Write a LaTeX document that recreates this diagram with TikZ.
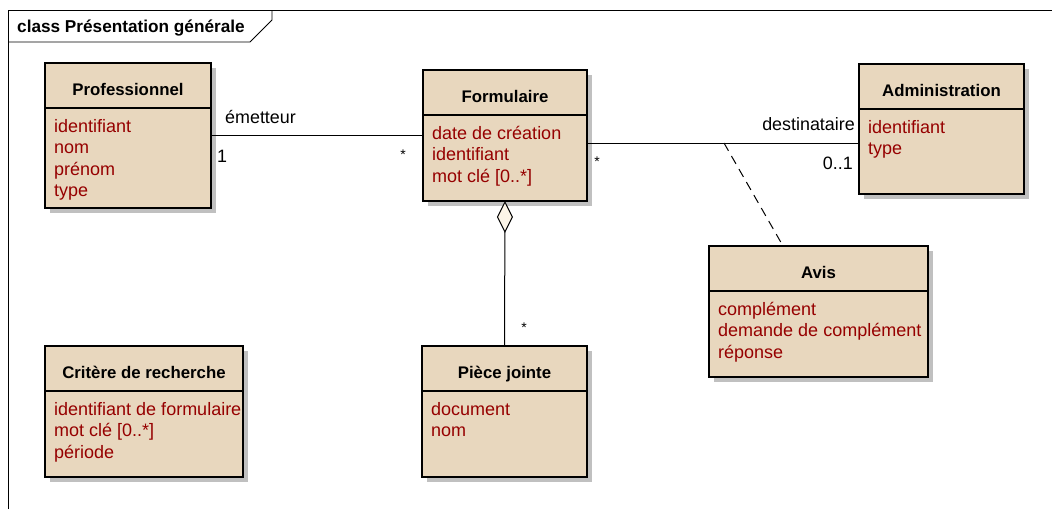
\documentclass[tikz,border=0pt]{standalone}
\usepackage{fontspec}
\setmainfont{Liberation Sans}
\usetikzlibrary{arrows.meta,calc}

\definecolor{classfill}{RGB}{232,215,190}
\definecolor{attrred}{RGB}{150,0,0}
\definecolor{shadowgrey}{RGB}{192,192,192}
\definecolor{diamondfill}{RGB}{252,245,232}

\tikzset{
  classbox/.style={draw, line width=1.4pt, fill=classfill, inner sep=0pt, outer sep=0pt},
  classname/.style={anchor=base, inner sep=0pt, font=\bfseries\fontsize{16.8}{20}\selectfont},
  attribute/.style={anchor=base west, inner sep=0pt, text=attrred, font=\fontsize{18}{21.5}\selectfont},
  rolename/.style={inner sep=0pt, font=\fontsize{17.9}{21.5}\selectfont},
  multstar/.style={inner sep=0pt, font=\fontsize{14}{15}\selectfont}
}

% name, x, y, width, height, title, attributes
\newcommand{\umlclass}[7]{%
  \fill[shadowgrey] (#2+5,#3+5) rectangle ++(#4,#5);
  \node[classbox, minimum width=#4pt, minimum height=#5pt] (#1) at (#2+#4/2,#3+#5/2) {};
  \draw[line width=1.2pt] ([yshift=-45pt]#1.north west) -- ([yshift=-45pt]#1.north east);
  \node[classname] (#1-name) at ([yshift=-32.5pt]#1.north) {#6};
  \foreach \att [count=\n] in {#7}
    \node[attribute] (#1-attr\n) at ([xshift=9pt,yshift={-69pt-21.5pt*(\n-1)}]#1.north west) {\att};
}

\begin{document}
\begin{tikzpicture}[x=1pt,y=-1pt]
 \useasboundingbox (0,0) rectangle (1052,509);
 % frame
 \draw[line width=0.8pt] (8,509) -- (8,10) -- (1052,10);
 \draw[line width=0.8pt] (8,42) -- (250,42) -- (272,20) -- (272,10);
 \node[anchor=base west, inner sep=0pt, font=\bfseries\fontsize{17.2}{20}\selectfont] (frametitle) at (17,32) {class Présentation générale};

 % classes
 \umlclass{prof}{45}{63}{166}{145}{Professionnel}{identifiant, nom, prénom, type}
 \umlclass{form}{423}{70}{164}{131}{Formulaire}{date de création, identifiant, {mot clé [0..*]}}
 \umlclass{admin}{859}{64}{165}{130}{Administration}{identifiant, type}
 \umlclass{avis}{709}{246}{219}{131}{Avis}{complément, demande de complément, réponse}
 \umlclass{crit}{45}{346}{198}{131}{Critère de recherche}{identifiant de formulaire, {mot clé [0..*]}, période}
 \umlclass{piece}{422}{346}{165}{131}{Pièce jointe}{document, nom}

 % associations
 \coordinate (assoc) at (724,143);
 \coordinate (avistop) at ($(avis.north west)!0.338!(avis.north east)$);
 \draw[line width=1pt] (prof.east) -- (form.west);
 \draw[line width=1pt] (form.east |- assoc) -- (admin.west |- assoc);
 \draw[line width=1pt, dashed, dash pattern=on 9pt off 6pt] (assoc) -- (avistop);
 \draw[line width=1pt, -{Diamond[length=32pt,width=16pt,fill=diamondfill]}] (piece.north) -- (form.south);

 % roles and multiplicities
 \node[rolename, anchor=base west] (emetteur) at (225,123) {émetteur};
 \node[rolename, anchor=base west] (multprof) at (217,162) {1};
 \node[multstar] (multformleft) at (403,155) {*};
 \node[multstar] (multformright) at (597,162) {*};
 \node[rolename, anchor=base east] (destinataire) at (855,130) {destinataire};
 \node[rolename, anchor=base east] (multadmin) at (853,169) {0..1};
 \node[multstar] (multpiece) at (524,328) {*};
\end{tikzpicture}
\end{document}
